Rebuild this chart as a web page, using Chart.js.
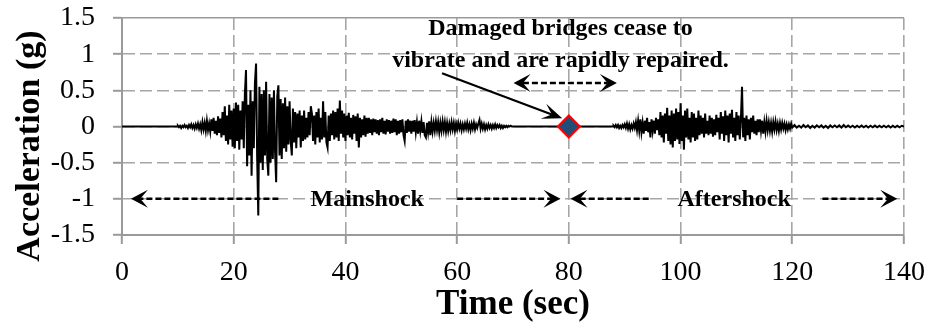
<!DOCTYPE html>
<html>
<head>
<meta charset="utf-8">
<script src="https://cdn.jsdelivr.net/npm/chart.js@4.4.1/dist/chart.umd.min.js"></script>
<style>
  html, body { margin: 0; padding: 0; background: #ffffff; }
  #chart { display: block; }
</style>
</head>
<body>
<canvas id="chart" width="932" height="331"></canvas>
<script>
/* global Chart */

// ---- data ----

const X_TICKS = [0, 20, 40, 60, 80, 100, 120, 140]

const Y_TICKS = [-1.5, -1, -0.5, 0, 0.5, 1, 1.5]

// still ground before the mainshock
const preEventTimes = [0, 10]
const preEventAccel = [0, 0]

// mainshock record, one sample every 0.2 s from 10 s
const mainshockStart = 10
const mainshockStep = 0.2
const mainshockAccel = [
  0.01, -0.01, 0.01, -0.02, 0.01, -0.01, 0.02, -0.01, 0.01, -0.02,
  0.02, -0.01, 0.03, -0.02, 0.02, -0.03, 0.03, -0.02, 0.04, -0.03,
  0.03, -0.05, 0.06, -0.04, 0.05, -0.06, 0.08, -0.05, 0.04, -0.07,
  0.1, -0.06, 0.12, -0.1, 0.08, -0.12, 0.14, -0.09, 0.11, -0.15,
  0.2, -0.12, 0.28, -0.2, 0.15, -0.25, 0.3, -0.18, 0.22, -0.28,
  0.25, -0.3, 0.33, -0.2, 0.3, -0.32, 0.22, -0.18, 0.35, -0.3,
  0.45, 0.78, -0.55, 0.3, -0.4, 0.5, -0.68, 0.35, -0.3, 0.6,
  0.87, -0.45, -1.23, 0.55, -0.5, 0.45, -0.6, 0.5, -0.4, 0.62,
  -0.45, -0.68, 0.45, -0.5, 0.4, -0.45, 0.5, -0.35, -0.77, 0.42,
  0.57, -0.4, 0.38, -0.45, 0.32, -0.3, 0.4, -0.35, 0.28, -0.25,
  0.35, -0.2, -0.4, 0.25, -0.22, 0.2, -0.3, 0.18, -0.15, 0.22,
  -0.29, 0.15, -0.2, 0.22, -0.18, 0.12, -0.15, 0.2, -0.12, 0.28,
  0.18, -0.2, 0.15, -0.25, 0.2, -0.15, 0.25, -0.22, 0.12, -0.18,
  0.35, -0.15, 0.2, -0.22, -0.29, 0.15, -0.2, 0.18, -0.12, 0.22,
  -0.18, 0.2, -0.15, 0.25, -0.2, 0.36, -0.1, 0.22, -0.15, 0.18,
  -0.2, 0.15, -0.12, 0.19, -0.15, 0.12, -0.18, 0.16, -0.1, 0.14,
  -0.2, 0.18, -0.29, 0.12, -0.15, 0.1, -0.12, 0.15, -0.14, 0.12,
  -0.1, 0.12, -0.09, 0.1, -0.12, 0.11, -0.08, 0.1, -0.1, 0.09,
  -0.12, 0.1, -0.08, 0.12, -0.1, 0.08, -0.11, 0.1, -0.07, 0.09,
  -0.1, 0.08, -0.09, 0.11, -0.08, 0.1, -0.12, 0.08, -0.1, 0.09,
  -0.08, 0.1, -0.12, -0.2, 0.08, -0.09, 0.1, -0.07, 0.08, -0.1,
  0.08, -0.07, 0.09, -0.08, 0.06, -0.1, 0.08, -0.06, 0.07, -0.09,
  0.06, -0.12, -0.15, 0.05, -0.08, 0.07, -0.12, 0.06, -0.07, 0.05,
  -0.06, 0.07, -0.05, 0.06, -0.08, 0.05, -0.06, 0.07, -0.05, 0.06,
  -0.07, 0.05, -0.06, 0.04, -0.05, 0.06, -0.04, 0.05, -0.06, 0.04,
  -0.04, 0.05, -0.03, 0.04, -0.05, 0.03, -0.04, 0.04, -0.03, 0.05,
  -0.04, 0.03, -0.05, 0.04, -0.03, 0.05, -0.04, 0.03, -0.02, 0.04,
  0.09, -0.03, 0.04, -0.03, 0.03, -0.04, 0.02, -0.03, 0.03, -0.02,
  0.02, -0.03, 0.02, -0.02, 0.03, -0.02, 0.02, -0.01, 0.02, -0.02,
  0.01, -0.02, 0.01, -0.01, 0.01, -0.01, 0.01, 0, 0.01, 0
]

// bridges at rest and being repaired
const pauseTimes = [70, 88]
const pauseAccel = [0, 0]

// aftershock record, one sample every 0.2 s from 88 s
const aftershockStart = 88
const aftershockStep = 0.2
const aftershockAccel = [
  0.01, -0.01, 0.02, -0.01, 0.02, -0.02, 0.01, -0.02, 0.02, -0.01,
  0.03, -0.02, 0.04, -0.03, 0.03, -0.04, 0.02, -0.03, 0.04, -0.02,
  0.06, -0.05, 0.08, -0.06, 0.1, -0.08, 0.05, -0.1, 0.08, -0.06,
  0.12, -0.08, 0.06, -0.15, 0.1, -0.06, 0.08, -0.1, 0.12, -0.05,
  0.1, -0.12, 0.2, -0.15, 0.15, -0.22, 0.18, -0.1, 0.26, -0.2,
  0.15, -0.25, 0.22, -0.29, 0.18, -0.2, 0.25, -0.18, 0.2, -0.24,
  0.32, -0.2, 0.15, -0.32, 0.22, -0.15, 0.25, -0.18, 0.12, -0.22,
  0.2, -0.15, 0.18, -0.2, 0.12, -0.18, 0.22, -0.12, 0.15, -0.1,
  0.12, -0.15, 0.18, -0.1, 0.08, -0.12, 0.15, -0.1, 0.12, -0.14,
  0.1, -0.12, 0.16, -0.08, 0.12, -0.18, 0.2, -0.1, 0.14, -0.2,
  0.22, -0.12, 0.15, -0.22, 0.18, -0.1, 0.23, -0.15, 0.12, -0.2,
  0.2, -0.12, 0.15, -0.18, 0.1, 0.55, -0.15, 0.12, -0.2, 0.15,
  -0.12, 0.1, -0.18, 0.12, -0.08, 0.15, -0.1, 0.08, -0.12, 0.1,
  -0.08, 0.1, -0.06, 0.08, -0.1, 0.06, -0.07, 0.08, -0.05, 0.06,
  -0.06, 0.05, -0.07, 0.06, -0.04, 0.07, -0.05, 0.04, -0.06, 0.05,
  -0.04, 0.05, -0.03, 0.04, -0.05, 0.03, -0.04, 0.03, -0.03, 0.04
]

// tail of the aftershock, one sample every 0.4 s from 120 s
const codaStart = 120
const codaStep = 0.4
const codaAccel = [
  -0.015, 0.02, -0.015, 0.01, -0.015, 0.02, -0.01, 0.015, -0.02, 0.01,
  -0.015, 0.015, -0.01, 0.015, -0.015, 0.01, -0.02, 0.015, -0.01, 0.015,
  -0.01, 0.015, -0.015, 0.02, -0.01, 0.015, -0.01, 0.01, -0.015, 0.01,
  -0.01, 0.015, -0.01, 0.01, -0.015, 0.01, -0.01, 0.015, -0.01, 0.01,
  -0.01, 0.01, -0.01, 0.01, -0.015, 0.01, -0.01, 0.01, -0.01, 0.01
]

const endTimes = [140]
const endAccel = [0]

// moment the damaged bridges stop vibrating
const restTime = [80]
const restAccel = [0]

// ---- look ----

const FONT = '"Liberation Serif", "Times New Roman", serif'

const GRID_GREY = '#a6a6a6'

const AXIS_GREY = '#9a9a9a'

function sampled(start, step, values) {

  return values.map(
    (value, i) => ({ x: +(start + i * step).toFixed(2), y: value })
  )

}

function paired(times, values) {

  return times.map(
    (time, i) => ({ x: time, y: values[i] })
  )

}

const tracePoints = [
  ...paired(preEventTimes, preEventAccel),
  ...sampled(mainshockStart, mainshockStep, mainshockAccel),
  ...paired(pauseTimes, pauseAccel),
  ...sampled(aftershockStart, aftershockStep, aftershockAccel),
  ...sampled(codaStart, codaStep, codaAccel),
  ...paired(endTimes, endAccel)
]

// annotation anchors, in axis units
const NOTE = {
  textX: 78.5,
  line1Y: 1.26,
  line2Y: 0.82,
  calloutFrom: [57.3, 0.735],
  calloutTo: [78.8, 0.113],
  repairFrom: 70.1,
  repairTo: 88.6,
  repairY: 0.6,
  phaseY: -1
}

function drawHead(ctx, fx, fy, tx, ty, len, half) {

  const ang = Math.atan2(ty - fy, tx - fx)

  ctx.save()
  ctx.translate(tx, ty)
  ctx.rotate(ang)
  ctx.setLineDash([])
  ctx.beginPath()
  ctx.moveTo(0, 0)
  ctx.lineTo(-len, -half)
  ctx.lineTo(-len * 0.55, 0)
  ctx.lineTo(-len, half)
  ctx.closePath()
  ctx.fill()
  ctx.restore()

}

// dashed arrow, head at (tx,ty); both=true puts a head at each end
function drawArrow(ctx, fx, fy, tx, ty, opts) {

  const len = opts.len
  const half = opts.half
  const ang = Math.atan2(ty - fy, tx - fx)
  const back = len * 0.55
  let sx = fx
  let sy = fy

  if (opts.both) {
    sx = fx + Math.cos(ang) * back
    sy = fy + Math.sin(ang) * back
  }

  const ex = tx - Math.cos(ang) * back
  const ey = ty - Math.sin(ang) * back

  ctx.save()
  ctx.strokeStyle = '#000000'
  ctx.fillStyle = '#000000'
  ctx.lineWidth = opts.width
  ctx.setLineDash(opts.dash || [])
  ctx.beginPath()
  ctx.moveTo(sx, sy)
  ctx.lineTo(ex, ey)
  ctx.stroke()
  drawHead(ctx, fx, fy, tx, ty, len, half)
  if (opts.both) {
    drawHead(ctx, tx, ty, fx, fy, len, half)
  }
  ctx.restore()

}

const annotationPlugin = {

  id: 'annotations',

  afterDraw(chart) {

    const ctx = chart.ctx
    const sx = chart.scales.x
    const sy = chart.scales.y
    const px = v => sx.getPixelForValue(v)
    const py = v => sy.getPixelForValue(v)

    ctx.save()

    // y axis title, centred as in the original
    ctx.save()
    ctx.translate(30, 146)
    ctx.rotate(-Math.PI / 2)
    ctx.font = 'bold 34px ' + FONT
    ctx.fillStyle = '#000000'
    ctx.textAlign = 'center'
    ctx.textBaseline = 'middle'
    ctx.fillText('Acceleration (g)', 0, 0)
    ctx.restore()

    // callout text
    ctx.font = 'bold 24px ' + FONT
    ctx.fillStyle = '#000000'
    ctx.textAlign = 'center'
    ctx.textBaseline = 'alphabetic'
    ctx.fillText('Damaged bridges cease to', px(NOTE.textX), py(NOTE.line1Y))
    ctx.fillText('vibrate and are rapidly repaired.', px(NOTE.textX), py(NOTE.line2Y))

    // callout arrow to the rest point
    drawArrow(
      ctx,
      px(NOTE.calloutFrom[0]), py(NOTE.calloutFrom[1]),
      px(NOTE.calloutTo[0]), py(NOTE.calloutTo[1]),
      { width: 2.2, len: 20, half: 8 }
    )

    // repair interval
    drawArrow(
      ctx,
      px(NOTE.repairFrom), py(NOTE.repairY),
      px(NOTE.repairTo), py(NOTE.repairY),
      { width: 2.5, len: 17, half: 9, dash: [6, 3], both: true }
    )

    // phase arrows along -1 g
    const yy = py(NOTE.phaseY)
    const phase = { width: 2.5, len: 17, half: 9, dash: [6, 3] }

    drawArrow(ctx, px(28), yy, px(1.6), yy, phase)
    drawArrow(ctx, px(60), yy, px(78.5), yy, phase)
    drawArrow(ctx, px(94.3), yy, px(80.3), yy, phase)
    drawArrow(ctx, px(125.4), yy, px(138.8), yy, phase)

    ctx.textBaseline = 'middle'
    ctx.fillText('Mainshock', px(43.9), yy + 1)
    ctx.fillText('Aftershock', px(109.6), yy + 1)

    ctx.restore()

  }

}

// grid lines dashed, frame edges solid
function gridDash(context) {

  if (context.type !== 'tick') {
    return []
  }

  const v = context.tick.value

  if (context.scale.axis === 'y' && Math.abs(v) === 1.5) {
    return []
  }

  if (context.scale.axis === 'x' && v === 0) {
    return []
  }

  return [12, 5]

}

function gridColor(context) {

  if (context.type === 'tick' && context.scale.axis === 'y' && context.tick.value === 1.5) {
    return AXIS_GREY
  }

  return GRID_GREY

}

new Chart(
  document.getElementById('chart'),
  {

    type: 'line',

    data: {

      datasets: [

        {
          label: 'Rest',
          data: paired(restTime, restAccel),
          showLine: false,
          pointStyle: 'rectRot',
          pointRadius: 11,
          pointBackgroundColor: '#1f4e79',
          pointBorderColor: '#ff0000',
          pointBorderWidth: 2
        },

        {
          label: 'Acceleration',
          data: tracePoints,
          borderColor: '#000000',
          borderWidth: 2,
          pointRadius: 0,
          tension: 0,
          fill: false
        }

      ]

    },

    options: {

      responsive: false,
      animation: false,
      devicePixelRatio: 1,

      layout: {
        padding: { left: 0, top: 18, right: 28, bottom: 0 }
      },

      plugins: {
        legend: { display: false },
        tooltip: { enabled: false }
      },

      scales: {

        x: {
          type: 'linear',
          min: 0,
          max: 140,
          afterBuildTicks: scale => {
            scale.ticks = X_TICKS.map(value => ({ value }))
          },
          afterFit: scale => {
            scale.height = 96
            scale.paddingLeft = 0
            scale.paddingRight = 0
          },
          ticks: {
            color: '#000000',
            padding: 12,
            maxRotation: 0,
            autoSkip: false,
            font: { family: FONT, size: 28, lineHeight: 1.2 },
            callback: value => String(value)
          },
          grid: {
            color: gridColor,
            lineWidth: 1.6,
            tickLength: 9,
            tickColor: AXIS_GREY,
            tickWidth: 2
          },
          border: {
            display: true,
            color: AXIS_GREY,
            width: 2,
            dash: gridDash
          },
          title: {
            display: true,
            text: 'Time (sec)',
            color: '#000000',
            padding: { top: 0, bottom: 5 },
            font: { family: FONT, size: 35, weight: 'bold', lineHeight: 1.2 }
          }
        },

        y: {
          min: -1.5,
          max: 1.5,
          afterBuildTicks: scale => {
            scale.ticks = Y_TICKS.map(value => ({ value }))
          },
          afterFit: scale => {
            scale.width = 122
            scale.paddingTop = 0
            scale.paddingBottom = 0
          },
          ticks: {
            color: '#000000',
            padding: 18,
            autoSkip: false,
            font: { family: FONT, size: 28, lineHeight: 1.2 },
            callback: value => String(value)
          },
          grid: {
            color: gridColor,
            lineWidth: 1.6,
            tickLength: 9,
            tickColor: AXIS_GREY,
            tickWidth: 2
          },
          border: {
            display: true,
            color: AXIS_GREY,
            width: 2,
            dash: gridDash
          }
        }

      }

    },

    plugins: [annotationPlugin]

  }
)
</script>
</body>
</html>
